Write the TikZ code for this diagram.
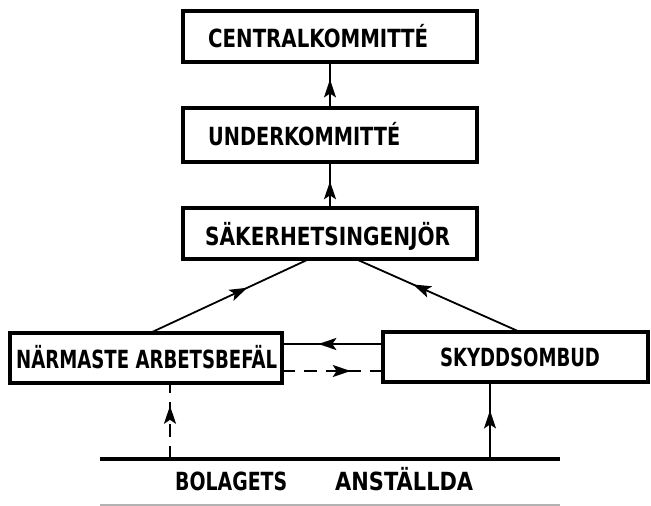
\documentclass[tikz,border=0pt]{standalone}
\usepackage{fontspec}
\setmainfont{DejaVu Sans}
\usetikzlibrary{arrows.meta,decorations.markings}
\newcommand\fitw[2]{\resizebox{#1}{\height}{#2}}
\begin{document}
\begin{tikzpicture}[x=1pt,y=-1pt,
  boxstyle/.style={draw, line width=3.4pt, inner sep=0pt},
  lbl/.style={font=\bfseries\fontsize{25}{27}\selectfont, inner sep=0pt},
  conn/.style={line width=1.8pt},
  midarrow/.style={postaction={decorate}, decoration={markings,
     mark=at position #1 with {\arrow{Stealth[length=18pt,width=12pt,inset=4pt]}}}},
  dashpat/.style={dash pattern=on 13pt off 9pt}
]
\useasboundingbox (0,0) rectangle (651,506);
% boxes
\node[boxstyle, minimum width=294pt, minimum height=51pt] (ck) at (330,36.5) {};
\node[boxstyle, minimum width=294pt, minimum height=54pt] (uk) at (330,135) {};
\node[boxstyle, minimum width=294pt, minimum height=51pt] (si) at (330,233.5) {};
\node[boxstyle, minimum width=272pt, minimum height=50pt] (na) at (146,358) {};
\node[boxstyle, minimum width=265pt, minimum height=50pt] (sk) at (515.5,357) {};
% bottom box
\coordinate (bl) at (100,459);
\coordinate (br) at (560,459);
\draw[line width=3.2pt] (bl) -- (br);
\draw[line width=1.5pt, gray!60] (100,505) -- (560,505);
% labels
\node[lbl, anchor=base west] (tck) at (208,47.5) {\fitw{220pt}{CENTRALKOMMITTÉ}};
\node[lbl, anchor=base west] (tuk) at (208,145) {\fitw{192pt}{UNDERKOMMITTÉ}};
\node[lbl, anchor=base west] (tsi) at (205,245) {\fitw{245pt}{SÄKERHETSINGENJÖR}};
\node[lbl, anchor=base west] (tna) at (16,368) {\fitw{261pt}{NÄRMASTE ARBETSBEFÄL}};
\node[lbl, anchor=base] (tsk) at (520,366) {\fitw{160pt}{SKYDDSOMBUD}};
\node[lbl, anchor=base west] (tb1) at (175,490) {\fitw{112pt}{BOLAGETS}};
\node[lbl, anchor=base west] (tb2) at (335,490) {\fitw{138pt}{ANSTÄLLDA}};
% coordinates of connector ends
\coordinate (ckb) at (330,62);
\coordinate (ukt) at (330,108);
\coordinate (ukb) at (330,162);
\coordinate (sit) at (330,208);
\coordinate (sil) at (307,260);
\coordinate (sir) at (358,260);
\coordinate (nat) at (150,333);
\coordinate (skt) at (520,332);
\coordinate (nar1) at (282,344);
\coordinate (skl1) at (383,344);
\coordinate (nar2) at (282,371);
\coordinate (skl2) at (383,371);
\coordinate (nab) at (170,383);
\coordinate (skb) at (490,382);
\coordinate (b1) at (170,459);
\coordinate (b2) at (490,459);
% connectors
\draw[conn, midarrow=0.62] (ukt) -- (ckb);
\draw[conn, midarrow=0.58] (sit) -- (ukb);
\draw[conn, midarrow=0.62] (nat) -- (sil);
\draw[conn, midarrow=0.66] (skt) -- (sir);
\draw[conn, midarrow=0.64] (skl1) -- (nar1);
\draw[conn, dashpat, midarrow=0.68] (nar2) -- (skl2);
\draw[conn, dashpat, midarrow=0.7] (b1) -- (nab);
\draw[conn, midarrow=0.63] (b2) -- (skb);
\end{tikzpicture}
\end{document}
